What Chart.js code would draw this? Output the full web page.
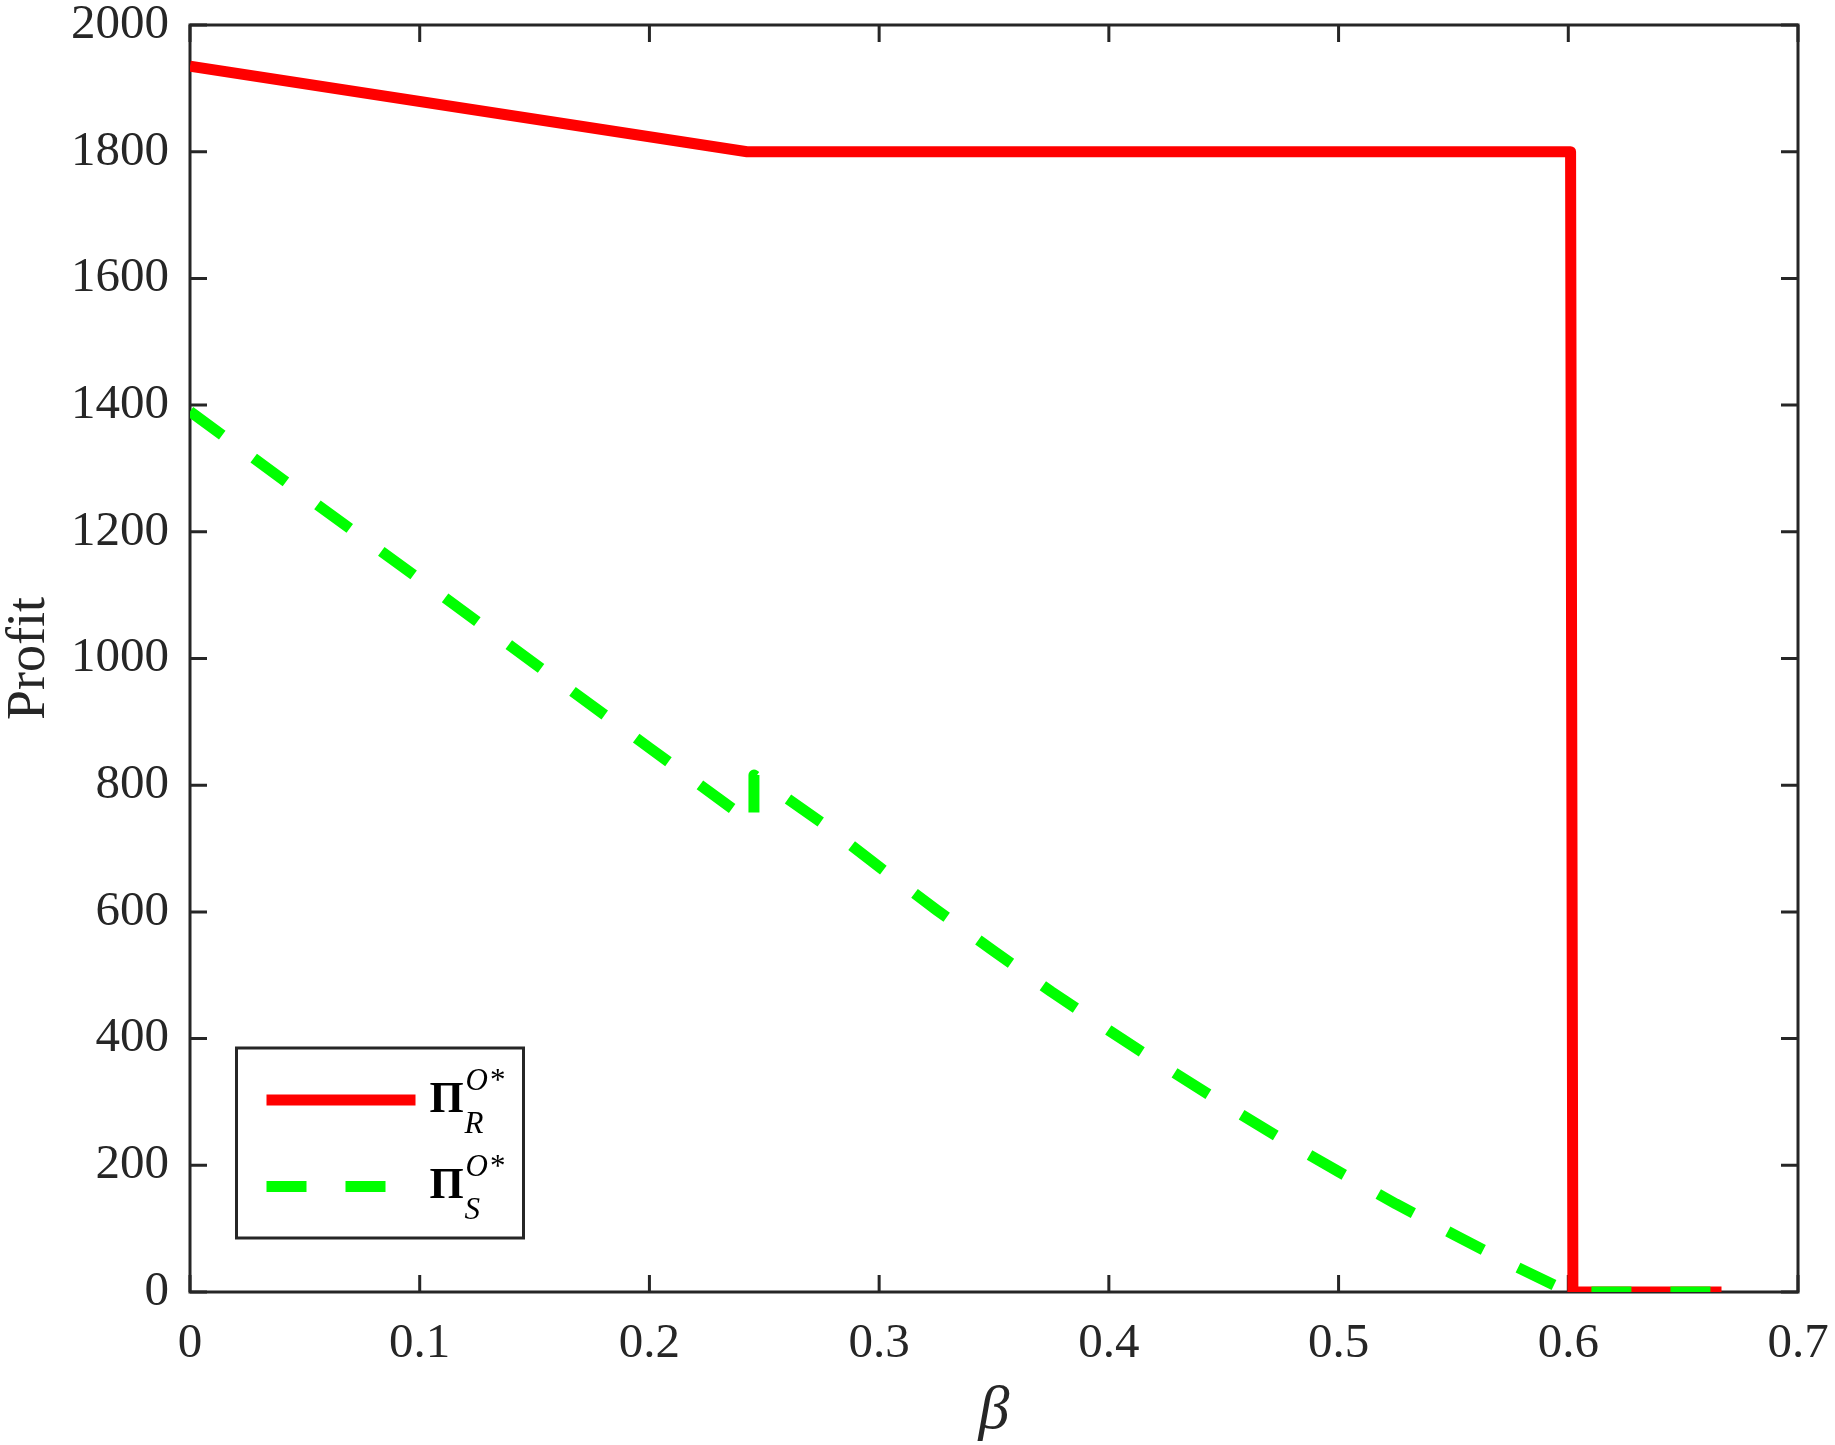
<!DOCTYPE html>
<html>
<head>
<meta charset="utf-8">
<script src="https://cdn.jsdelivr.net/npm/chart.js@4.4.0/dist/chart.umd.min.js"></script>
<style>
html,body{margin:0;padding:0;background:#fff;}
#wrap{width:1835px;height:1445px;position:relative;}
canvas{display:block;}
</style>
</head>
<body>
<div id="wrap"><canvas id="c" width="1835" height="1445"></canvas></div>
<script>
// ---- Data ----
const xTicks = [0, 0.1, 0.2, 0.3, 0.4, 0.5, 0.6, 0.7];
const xTickLabels = ['0', '0.1', '0.2', '0.3', '0.4', '0.5', '0.6', '0.7'];
const yTicks = [0, 200, 400, 600, 800, 1000, 1200, 1400, 1600, 1800, 2000];
const yTickLabels = ['0', '200', '400', '600', '800', '1000', '1200', '1400', '1600', '1800', '2000'];

// Retailer profit  Π_R^{O*}
const betaR = [0, 0.2425, 0.601, 0.602, 0.6667];
const profitR = [1935, 1800, 1800, 0, 0];

// Supplier profit  Π_S^{O*}
const betaS = [0, 0.05, 0.1, 0.15, 0.2, 0.2455, 0.2455, 0.275, 0.3, 0.325, 0.35, 0.375, 0.4, 0.425, 0.45, 0.475, 0.5, 0.525, 0.55, 0.575, 0.6, 0.6667];
const profitS = [1390, 1257, 1125, 992, 859, 738, 816, 741, 671, 603, 538, 474, 413, 354, 297, 242, 190, 139, 91, 44, 0, 0];

const seriesSub = ['R', 'S'];
const seriesSup = ['O', 'O'];
const xTitle = 'β';
const yTitle = 'Profit';

const AXIS_COLOR = '#262626';
const FONT = "'Liberation Serif', 'Times New Roman', serif";

const framePlugin = {
  id: 'frame',
  beforeDatasetsDraw(chart) {
    const {ctx, chartArea: a, scales: {x, y}} = chart;
    ctx.save();
    ctx.strokeStyle = AXIS_COLOR;
    ctx.lineWidth = 3;
    ctx.lineCap = 'butt';
    ctx.strokeRect(a.left, a.top, a.right - a.left, a.bottom - a.top);
    const tl = 17;
    ctx.beginPath();
    xTicks.forEach(v => {
      const px = x.getPixelForValue(v);
      ctx.moveTo(px, a.bottom); ctx.lineTo(px, a.bottom - tl);
      ctx.moveTo(px, a.top); ctx.lineTo(px, a.top + tl);
    });
    yTicks.forEach(v => {
      const py = y.getPixelForValue(v);
      ctx.moveTo(a.left, py); ctx.lineTo(a.left + tl, py);
      ctx.moveTo(a.right, py); ctx.lineTo(a.right - tl, py);
    });
    ctx.stroke();
    ctx.restore();
  }
};

const legendPlugin = {
  id: 'customLegend',
  afterDatasetsDraw(chart) {
    const {ctx, chartArea: a} = chart;
    const bx = a.left + 46.5, by = a.bottom - 244, bw = 287, bh = 190;
    ctx.save();
    ctx.fillStyle = '#ffffff';
    ctx.fillRect(bx, by, bw, bh);
    ctx.strokeStyle = AXIS_COLOR;
    ctx.lineWidth = 3;
    ctx.strokeRect(bx, by, bw, bh);
    const order = [0, 1]; // dataset index for R, S
    order.forEach((di, i) => {
      const ds = chart.data.datasets[di];
      const ly = by + 52 + i * 86.5;
      ctx.save();
      ctx.strokeStyle = ds.borderColor;
      ctx.lineWidth = ds.borderWidth;
      ctx.lineCap = 'butt';
      ctx.setLineDash(ds.borderDash || []);
      ctx.beginPath();
      ctx.moveTo(bx + 30, ly);
      ctx.lineTo(bx + 179, ly);
      ctx.stroke();
      ctx.restore();

      ctx.fillStyle = '#000000';
      ctx.textBaseline = 'alphabetic';
      ctx.textAlign = 'left';
      const off = i * 86;
      ctx.font = `bold 44px ${FONT}`;
      ctx.fillText('Π', bx + 193, by + 64 + off);
      ctx.font = `italic 31px ${FONT}`;
      ctx.fillText(seriesSup[i], bx + 229, by + 42 + off);
      const w = ctx.measureText(seriesSup[i]).width;
      ctx.font = `31px ${FONT}`;
      ctx.fillText('*', bx + 229 + w + 2, by + 42 + off);
      ctx.font = `italic 31px ${FONT}`;
      ctx.fillText(seriesSub[i], bx + 228, by + 85 + off);
    });
    ctx.restore();
  }
};

const zeroPad = s => { s.paddingTop = 0; s.paddingBottom = 0; s.paddingLeft = 0; s.paddingRight = 0; };

new Chart(document.getElementById('c'), {
  type: 'line',
  data: {
    datasets: [
      {
        label: 'R',
        data: betaR.map((b, i) => ({x: b, y: profitR[i]})),
        borderColor: '#FF0000',
        borderWidth: 11,
        pointRadius: 0,
        borderJoinStyle: 'round',
        fill: false,
        tension: 0,
        order: 2
      },
      {
        label: 'S',
        data: betaS.map((b, i) => ({x: b, y: profitS[i]})),
        borderColor: '#00FF00',
        borderWidth: 11,
        borderDash: [40, 39],
        pointRadius: 0,
        borderJoinStyle: 'round',
        fill: false,
        tension: 0,
        order: 1
      }
    ]
  },
  options: {
    responsive: false,
    animation: false,
    devicePixelRatio: 1,
    layout: {padding: {left: 0, top: 25, right: 37, bottom: 0}},
    plugins: {legend: {display: false}, tooltip: {enabled: false}},
    scales: {
      x: {
        type: 'linear',
        min: 0, max: 0.7,
        afterBuildTicks: s => { s.ticks = xTicks.map(v => ({value: v})); },
        afterFit: s => { s.height = 153; zeroPad(s); },
        grid: {display: false, drawTicks: false},
        border: {display: false},
        ticks: {
          padding: 28, color: AXIS_COLOR, maxRotation: 0, autoSkip: false,
          font: {family: FONT, size: 49, lineHeight: 1},
          callback: (v, i) => xTickLabels[i]
        },
        title: {
          display: true, text: xTitle, color: AXIS_COLOR,
          font: {family: FONT, size: 62, style: 'italic', lineHeight: 1},
          padding: {top: 0, bottom: 2}
        }
      },
      y: {
        type: 'linear',
        min: 0, max: 2000,
        afterBuildTicks: s => { s.ticks = yTicks.map(v => ({value: v})); },
        afterFit: s => { s.width = 190; zeroPad(s); },
        grid: {display: false, drawTicks: false},
        border: {display: false},
        ticks: {
          padding: 21, color: AXIS_COLOR, autoSkip: false,
          font: {family: FONT, size: 49, lineHeight: 1},
          callback: (v, i) => yTickLabels[i]
        },
        title: {
          display: true, text: yTitle, color: AXIS_COLOR,
          font: {family: FONT, size: 54, lineHeight: 1},
          padding: {top: 3, bottom: 0}
        }
      }
    }
  },
  plugins: [framePlugin, legendPlugin]
});
</script>
</body>
</html>
